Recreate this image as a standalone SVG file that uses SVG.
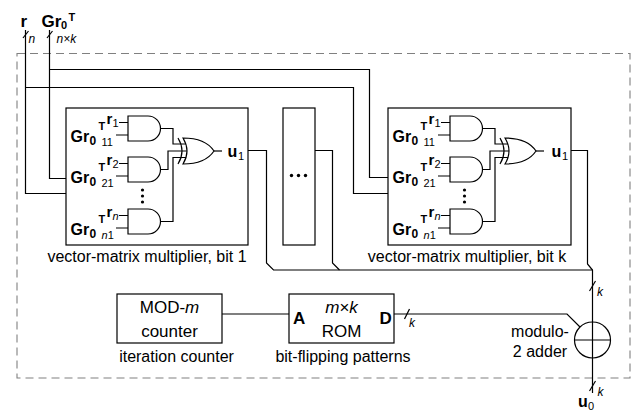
<svg xmlns="http://www.w3.org/2000/svg" width="635" height="414" viewBox="0 0 635 414">
<style>
.w{fill:none;stroke:#000;stroke-width:1.2}
.box{fill:#fff;stroke:#000;stroke-width:1.2}
.g{fill:#fff;stroke:#000;stroke-width:1.2}
.dash{fill:none;stroke:#808080;stroke-width:1.1;stroke-dasharray:8 5}
text{font-family:'Liberation Sans',Arial,sans-serif;fill:#000}
.lb{font-size:16px}
.bx{font-size:17px}
.b{font-weight:bold}
.it{font-style:italic}
.m{font-size:15px;font-weight:bold}
.gr{font-size:16px;font-weight:bold}
.s{font-size:11px}
.sb{font-size:12px;font-weight:bold}
.sup{font-size:11px;font-weight:bold}
.ann{font-size:12px;font-style:italic}
</style>
<rect width="635" height="414" fill="#fff"/>
<rect class="dash" x="17" y="53.5" width="613" height="324.5"/>

<g id="connectors">
  <path class="w" d="M25.5,30 V193.5 H66"/>
  <path class="w" d="M25.5,87.5 H353.5 V193.5 H388"/>
  <path class="w" d="M49.5,30 V178.5 H66"/>
  <path class="w" d="M49.5,69.5 H369.5 V177.5 H388"/>
  <path class="w" d="M23,38 L28.5,31"/>
  <path class="w" d="M47,38 L52.5,31"/>
  <path class="w" d="M248,150.5 H266.5 V263 L273.5,270 H592.5"/>
  <path class="w" d="M315,150.5 H332.5 V263 L339.5,270"/>
  <path class="w" d="M571,150.5 H587.5 V264 L592.5,270 V322"/>
  <path class="w" d="M589.5,291 L595.5,281"/>
  <path class="w" d="M592.5,358 V393"/>
  <path class="w" d="M589.5,391 L595.5,381"/>
  <path class="w" d="M222,314 H289"/>
  <path class="w" d="M394,314 H567 L580,327"/>
  <path class="w" d="M404.5,319 L409.5,309"/>
</g>

<g id="input-r">
  <text class="b" x="20.5" y="27" font-size="17">r</text>
  <text class="ann" x="28.5" y="43">n</text>
</g>
<g id="input-Gr0T">
  <text class="b" x="41.5" y="27" font-size="17">Gr</text>
  <text class="b" x="61" y="29" font-size="11">0</text>
  <text class="sup" x="68.5" y="21">T</text>
  <text class="ann" x="56.5" y="43">n×k</text>
</g>

<g id="vmm-bit1">
  <rect class="box" x="66" y="108" width="182" height="137"/>
  <path class="g" d="M128,116 h20 a12.5,12.5 0 0 1 0,25 h-20 z"/>
  <path class="g" d="M128,157 h20 a12.5,12.5 0 0 1 0,25 h-20 z"/>
  <path class="g" d="M128,209 h20 a12.5,12.5 0 0 1 0,25 h-20 z"/>
  <path class="w" d="M119,122.5 H128 M116,135 H128 M119,163.5 H128 M116,176 H128 M119,215.5 H128 M116,228 H128"/>
  <path class="w" d="M160.5,128.5 H173 V144 H186 M160.5,169.5 H168 V151 H187 M160.5,221.5 H173 V157.5 H186"/>
  <path class="g" d="M183,138 C198,138 208,142 214,151 C208,160 198,164 183,164 Q191,151 183,138 Z"/>
  <path class="w" d="M178,138 Q186,151 178,164"/>
  <path class="w" d="M214,151 H222"/>
  <circle cx="142.5" cy="190" r="1.6"/>
  <circle cx="142.5" cy="196" r="1.6"/>
  <circle cx="142.5" cy="202" r="1.6"/>
  <text class="m" x="106.5" y="124">r</text><text class="s" x="112.5" y="127">1</text>
  <text class="gr" x="70.5" y="142">Gr</text><text class="sb" x="89.5" y="145">0</text><text class="sup" x="98.5" y="130">T</text><text class="s" x="101.5" y="146">11</text>
  <text class="m" x="106.5" y="165">r</text><text class="s" x="112.5" y="168">2</text>
  <text class="gr" x="70.5" y="183">Gr</text><text class="sb" x="89.5" y="186">0</text><text class="sup" x="98.5" y="171">T</text><text class="s" x="101.5" y="187">21</text>
  <text class="m" x="106.5" y="217">r</text><text class="s it" x="112.5" y="220">n</text>
  <text class="gr" x="70.5" y="235">Gr</text><text class="sb" x="89.5" y="238">0</text><text class="sup" x="98.5" y="223">T</text><text class="s" x="101.5" y="239"><tspan font-style="italic">n</tspan>1</text>
  <text class="gr" x="227.5" y="157">u</text><text class="s" x="238" y="160">1</text>
  <text class="lb" x="147" y="262" text-anchor="middle">vector-matrix multiplier, bit 1</text>
</g>

<g id="vmm-dots">
  <rect class="box" x="283" y="108" width="32" height="137"/>
  <circle cx="291.5" cy="175.5" r="1.7"/>
  <circle cx="298.5" cy="175.5" r="1.7"/>
  <circle cx="305.5" cy="175.5" r="1.7"/>
</g>

<g id="vmm-bitk" transform="translate(322,0)">
  <rect class="box" x="66" y="108" width="183" height="137"/>
  <path class="g" d="M128,116 h20 a12.5,12.5 0 0 1 0,25 h-20 z"/>
  <path class="g" d="M128,157 h20 a12.5,12.5 0 0 1 0,25 h-20 z"/>
  <path class="g" d="M128,209 h20 a12.5,12.5 0 0 1 0,25 h-20 z"/>
  <path class="w" d="M119,122.5 H128 M116,135 H128 M119,163.5 H128 M116,176 H128 M119,215.5 H128 M116,228 H128"/>
  <path class="w" d="M160.5,128.5 H173 V144 H186 M160.5,169.5 H168 V151 H187 M160.5,221.5 H173 V157.5 H186"/>
  <path class="g" d="M183,138 C198,138 208,142 214,151 C208,160 198,164 183,164 Q191,151 183,138 Z"/>
  <path class="w" d="M178,138 Q186,151 178,164"/>
  <path class="w" d="M214,151 H222"/>
  <circle cx="142.5" cy="190" r="1.6"/>
  <circle cx="142.5" cy="196" r="1.6"/>
  <circle cx="142.5" cy="202" r="1.6"/>
  <text class="m" x="106.5" y="124">r</text><text class="s" x="112.5" y="127">1</text>
  <text class="gr" x="70.5" y="142">Gr</text><text class="sb" x="89.5" y="145">0</text><text class="sup" x="98.5" y="130">T</text><text class="s" x="101.5" y="146">11</text>
  <text class="m" x="106.5" y="165">r</text><text class="s" x="112.5" y="168">2</text>
  <text class="gr" x="70.5" y="183">Gr</text><text class="sb" x="89.5" y="186">0</text><text class="sup" x="98.5" y="171">T</text><text class="s" x="101.5" y="187">21</text>
  <text class="m" x="106.5" y="217">r</text><text class="s it" x="112.5" y="220">n</text>
  <text class="gr" x="70.5" y="235">Gr</text><text class="sb" x="89.5" y="238">0</text><text class="sup" x="98.5" y="223">T</text><text class="s" x="101.5" y="239"><tspan font-style="italic">n</tspan>1</text>
  <text class="gr" x="229.5" y="157">u</text><text class="s" x="240" y="160">1</text>
  <text class="lb" x="145" y="262" text-anchor="middle">vector-matrix multiplier, bit k</text>
</g>

<g id="counter">
  <rect class="box" x="117" y="294" width="105" height="49"/>
  <text class="bx" x="169.5" y="313" text-anchor="middle">MOD-<tspan font-style="italic">m</tspan></text>
  <text class="bx" x="169.5" y="337" text-anchor="middle">counter</text>
  <text class="lb" x="176.5" y="362" text-anchor="middle">iteration counter</text>
</g>

<g id="rom">
  <rect class="box" x="289" y="294" width="105" height="49"/>
  <text class="bx it" x="341.5" y="313" text-anchor="middle">m×k</text>
  <text class="bx" x="341.5" y="337" text-anchor="middle">ROM</text>
  <text class="b" x="293" y="324" font-size="17">A</text>
  <text class="b" x="379.5" y="324" font-size="17">D</text>
  <text class="ann" x="409" y="327">k</text>
  <text class="lb" x="343" y="362" text-anchor="middle">bit-flipping patterns</text>
</g>

<g id="adder">
  <circle cx="592.5" cy="340" r="18" fill="#fff" stroke="#000" stroke-width="1.2"/>
  <path class="w" d="M574.5,340 H610.5 M592.5,322 V358"/>
  <text class="lb" x="540" y="337" text-anchor="middle">modulo-</text>
  <text class="lb" x="540" y="357" text-anchor="middle">2 adder</text>
  <text class="ann" x="597" y="296">k</text>
</g>

<g id="output-u0">
  <text class="ann" x="597.5" y="396">k</text>
  <text class="gr" x="578" y="407">u</text><text class="s" x="588" y="410">0</text>
</g>
</svg>
